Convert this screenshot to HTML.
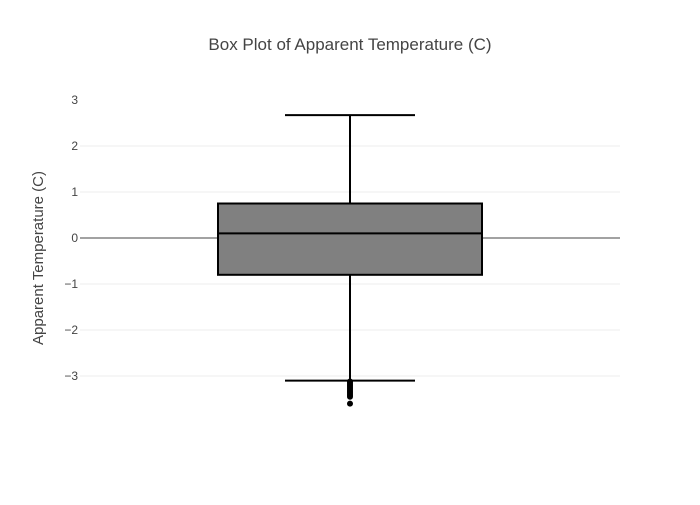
<!DOCTYPE html>
<html><head><meta charset="utf-8"><style>
body{margin:0;background:#fff;font-family:"Liberation Sans",sans-serif;}
</style></head><body>
<svg id="c" width="700" height="500" xmlns="http://www.w3.org/2000/svg">
<rect width="700" height="500" fill="#fff"/>
<text x="350" y="50" text-anchor="middle" font-size="17" fill="#444">Box Plot of Apparent Temperature (C)</text>
<text transform="translate(43,258) rotate(-90)" text-anchor="middle" font-size="15" fill="#444">Apparent Temperature (C)</text>
<g id="grid"></g><g id="ticks"></g><g id="box"></g>
</svg>
<script>
const yTicks=[3,2,1,0,-1,-2,-3];
const q1=[-0.8];
const q3=[0.75];
const median=[0.1];
const lowerWhisker=[-3.1];
const upperWhisker=[2.67];
const outliers=[-3.12,-3.15,-3.18,-3.21,-3.24,-3.27,-3.3,-3.33,-3.36,-3.39,-3.42,-3.45,-3.6];
const NS="http://www.w3.org/2000/svg";
const y=v=>238-v*46;
const cx=350;
function mk(t,a,p){const e=document.createElementNS(NS,t);for(const k in a)e.setAttribute(k,a[k]);p.appendChild(e);return e;}
const g=document.getElementById('grid'),tk=document.getElementById('ticks'),b=document.getElementById('box');
yTicks.forEach((v,i)=>{
 if(i>0){
 const l=mk('line',{x1:80,x2:620,y1:y(v),y2:y(v),stroke:v===0?'#444':'#eee','stroke-width':1},g);
 
 
 }
 const t=mk('text',{x:78,y:y(v)+4,'text-anchor':'end','font-size':12,fill:'#444'},tk);
 t.textContent=v<0?'\u2212'+Math.abs(v):String(v);
 
 
});
const s={stroke:'#000','stroke-width':2};
let e;
e=mk('line',Object.assign({x1:cx,x2:cx,y1:y(upperWhisker[0]),y2:y(q3[0])},s),b);


e=mk('line',Object.assign({x1:cx,x2:cx,y1:y(q1[0]),y2:y(lowerWhisker[0])},s),b);


e=mk('line',Object.assign({x1:285,x2:415,y1:y(upperWhisker[0]),y2:y(upperWhisker[0])},s),b);


e=mk('line',Object.assign({x1:285,x2:415,y1:y(lowerWhisker[0]),y2:y(lowerWhisker[0])},s),b);


e=mk('rect',Object.assign({x:218,width:264,y:y(q3[0]),height:y(q1[0])-y(q3[0]),fill:'#808080'},s),b);


e=mk('line',Object.assign({x1:218,x2:482,y1:y(median[0]),y2:y(median[0])},s),b);


outliers.forEach(v=>{
 const c=mk('circle',{cx:cx,cy:y(v),r:3,fill:'#000'},b);
 
 
});
</script>
</body></html>
